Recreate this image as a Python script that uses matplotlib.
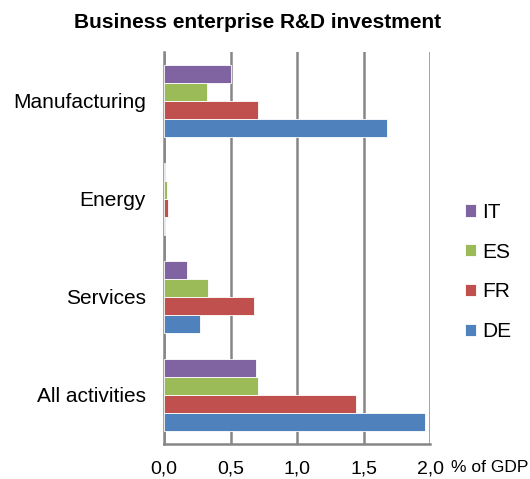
import matplotlib

matplotlib.use("Agg")
import matplotlib.pyplot as plt
import numpy as np

plt.rcParams["font.family"] = ["Liberation Sans", "DejaVu Sans"]

categories = ["All activities", "Services", "Energy", "Manufacturing"]
countries = ["DE", "FR", "ES", "IT"]
colors = ["#4F81BD", "#C0504D", "#9BBB59", "#8064A2"]
values = {
    "DE": [1.96, 0.27, 0.005, 1.68],
    "FR": [1.44, 0.68, 0.03, 0.71],
    "ES": [0.71, 0.33, 0.02, 0.32],
    "IT": [0.69, 0.17, 0.005, 0.50],
}
xticks = [0.0, 0.5, 1.0, 1.5, 2.0]

fig = plt.figure(figsize=(5.3, 4.79), dpi=100)
ax = fig.add_axes([164 / 530, 1 - 444 / 479, 266 / 530, 392 / 479])

y = np.arange(len(categories))
h = 0.185
for i, (c, col) in enumerate(zip(countries, colors)):
    ax.barh(y + (i - 1.5) * h, values[c], height=h, color=col,
            edgecolor="white", linewidth=0.6, label=c, zorder=3)

ax.set_xlim(0, 2.0)
ax.set_ylim(-0.5, 3.5)
ax.set_xticks(xticks)
ax.set_xticklabels([f"{t:.1f}".replace(".", ",") for t in xticks], fontsize=14)
ax.set_yticks(y)
ax.set_yticklabels(categories, fontsize=15)
ax.tick_params(axis="y", length=0, pad=13)
ax.tick_params(axis="x", length=0, pad=12)
ax.grid(axis="x", color="#868686", linewidth=1.8, zorder=0)
for s in ["top", "right"]:
    ax.spines[s].set_visible(False)
for s in ["left", "bottom"]:
    ax.spines[s].set_color("#868686")
    ax.spines[s].set_linewidth(1.8)

fig.text(258 / 530, 1 - 23 / 479, "Business enterprise R&D investment",
         fontsize=15, fontweight="bold", ha="center", va="center")
fig.text(451 / 530, 1 - 468 / 479, "% of GDP", fontsize=12.5, va="center", ha="left")

handles, labels = ax.get_legend_handles_labels()
fig.legend(handles[::-1], labels[::-1], loc="center left",
           bbox_to_anchor=(446 / 530, 1 - 272 / 479), frameon=False,
           fontsize=15, handlelength=0.55, handleheight=0.55, labelspacing=1.0,
           handletextpad=0.3)

fig.savefig("out.png", dpi=100)
